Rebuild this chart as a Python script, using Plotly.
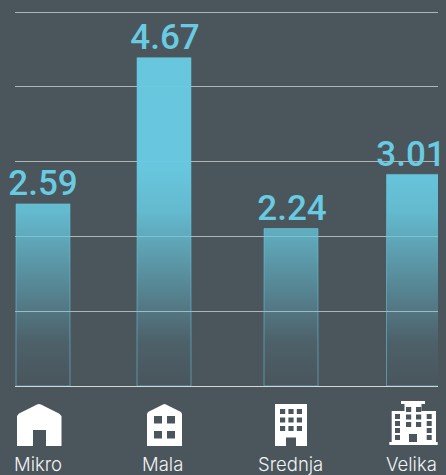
import plotly.graph_objects as go

categories = ["Mikro", "Mala", "Srednja", "Velika"]
values = [2.59, 4.67, 2.24, 3.01]
value_labels = ["2.59", "4.67", "2.24", "3.01"]

# horizontal layout positions (axis units equal pixels)
bar_centers = [43, 164, 291, 413.5]
text_centers = [43, 165, 292, 411]
bar_half_width = 27
label_centers = [38, 162, 290, 411.5]

BG = "#4a555c"
CYAN = "104,202,225"
WHITE = "#ffffff"

W, H = 446, 475
L, R, T, B = 15, 8, 8, 89
PX_PER_UNIT = 70.3
Y_TOP = (H - T - B) / PX_PER_UNIT
GRID_STEP = 74.8 / PX_PER_UNIT
GRADIENT_TOP = 3.1


def px_y(py):
    return (H - B - py) / (H - T - B)


def rect(x0, y0, x1, y1):
    # counter-clockwise on screen, so it cuts a hole in a clockwise outline
    return f"M{x0},{px_y(y0)} L{x0},{px_y(y1)} L{x1},{px_y(y1)} L{x1},{px_y(y0)} Z "


def poly(points):
    return "M" + " L".join(f"{x},{px_y(y)}" for x, y in points) + " Z "


def grid(xs, ys, w, h):
    return "".join(rect(x, y, x + w, y + h) for y in ys for x in xs)


icons = [
    poly([(17, 416), (19, 413.5), (37, 404.5), (39, 404), (41, 404.5), (59, 413.5), (61.5, 416),
          (61.5, 446), (46, 446), (46, 430), (33, 430), (33, 446), (17, 446)]),
    poly([(147, 414), (148, 412), (163, 404.5), (164.5, 404), (166, 404.5), (181, 412), (182, 414),
          (182, 446), (147, 446)])
    + grid([154, 167], [416, 431], 8, 7.5),
    poly([(275, 404), (307, 404), (307, 446), (296, 446), (296, 437.5), (286, 437.5), (286, 446), (275, 446)])
    + grid([280, 288.4, 296.8], [409, 417.4, 426], 5.2, 5),
    poly([(401, 401), (425, 401), (425, 404), (421.5, 404), (421.5, 411), (436, 411), (436, 442),
          (437.7, 442), (437.7, 445), (389.3, 445), (389.3, 442), (391.7, 442), (391.7, 411),
          (404.5, 411), (404.5, 404), (401, 404)])
    + grid([395, 426.7], [414, 421, 428, 435], 5, 5)
    + grid([406, 416], [407, 414.5, 422], 5.2, 5)
    + rect(409, 434, 417, 442),
]

fig = go.Figure()

for name, center, value in zip(categories, bar_centers, values):
    x0, x1 = center - bar_half_width, center + bar_half_width
    fig.add_trace(go.Scatter(
        x=[x0, x0, x1, x1, x0],
        y=[0, value, value, 0, 0],
        name=name,
        mode="lines",
        line=dict(color=f"rgba({CYAN},0.55)", width=1),
        fill="toself",
        fillgradient=dict(
            type="vertical",
            start=0,
            stop=GRADIENT_TOP,
            colorscale=[
                [0, f"rgba({CYAN},0.0)"],
                [0.2, f"rgba({CYAN},0.1)"],
                [0.5, f"rgba({CYAN},0.48)"],
                [0.8, f"rgba({CYAN},0.86)"],
                [1, f"rgba({CYAN},0.97)"],
            ],
        ),
        cliponaxis=False,
        hoverinfo="skip",
        showlegend=False,
    ))

fig.add_trace(go.Scatter(
    x=text_centers,
    y=values,
    text=value_labels,
    mode="text",
    textposition="top center",
    textfont=dict(family="Roboto", size=35, color="#68cbe2", weight=500),
    cliponaxis=False,
    hoverinfo="skip",
    showlegend=False,
))

fig.update_layout(
    width=W,
    height=H,
    margin=dict(l=L, r=R, t=T, b=B, autoexpand=False),
    paper_bgcolor=BG,
    plot_bgcolor=BG,
    showlegend=False,
    shapes=[
        dict(type="path", xref="x", yref="paper", path=p, fillcolor=WHITE, line=dict(width=0), layer="above")
        for p in icons
    ],
    annotations=[
        dict(
            x=x, y=px_y(475.5), xref="x", yref="paper", text=name, showarrow=False,
            xanchor="center", yanchor="bottom", borderpad=0,
            font=dict(family="Inter", size=18.5, color="#f2f3f3", weight=300),
        )
        for x, name in zip(label_centers, categories)
    ],
    xaxis=dict(
        range=[L, W - R],
        showticklabels=False,
        ticks="",
        showgrid=False,
        zeroline=False,
        showline=False,
        fixedrange=True,
    ),
    yaxis=dict(
        range=[0, Y_TOP],
        tick0=0,
        dtick=GRID_STEP,
        showticklabels=False,
        ticks="",
        gridcolor="#b0b5b8",
        gridwidth=1,
        zeroline=True,
        zerolinecolor="#d5d8d9",
        zerolinewidth=1,
        showline=False,
        fixedrange=True,
    ),
)

fig.write_html(
    "out.html",
    config={"displayModeBar": False},
    post_script="document.body.style.margin='0';document.body.style.background='" + BG + "';",
)
